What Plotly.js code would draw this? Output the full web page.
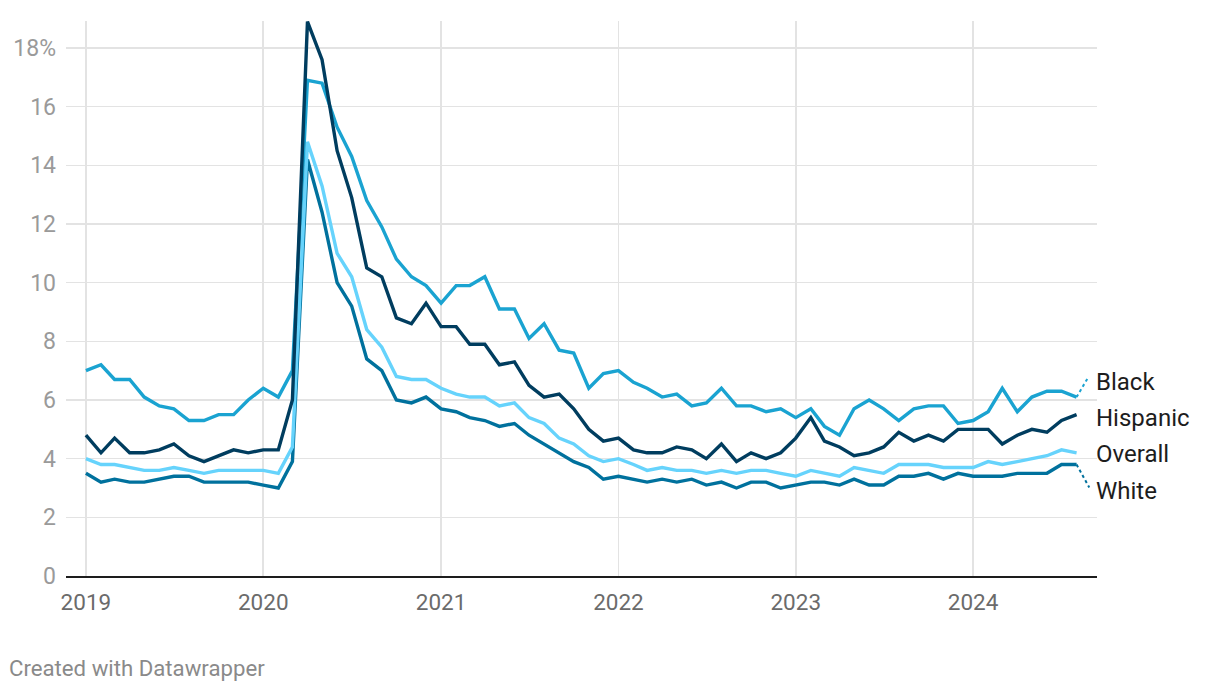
<!DOCTYPE html>
<html>
<head>
<meta charset="utf-8">
<script src="https://cdn.plot.ly/plotly-3.0.1.min.js"></script>
<style>
  html, body { margin: 0; padding: 0; background: #fff; }
  #chart { width: 1220px; height: 692px; }
</style>
</head>
<body>
<div id="chart"></div>
<script>
// Monthly, Jan 2019 – Aug 2024
const startYear = 2019;
const monthCount = 68;
const months = [];
for (let i = 0; i < monthCount; i++) {
  const y = startYear + Math.floor(i / 12);
  const m = (i % 12) + 1;
  months.push(y + '-' + String(m).padStart(2, '0') + '-01');
}

const black = [
  7.0, 7.2, 6.7, 6.7, 6.1, 5.8, 5.7, 5.3, 5.3, 5.5, 5.5, 6.0,
  6.4, 6.1, 7.0, 16.9, 16.8, 15.3, 14.3, 12.8, 11.9, 10.8, 10.2, 9.9,
  9.3, 9.9, 9.9, 10.2, 9.1, 9.1, 8.1, 8.6, 7.7, 7.6, 6.4, 6.9,
  7.0, 6.6, 6.4, 6.1, 6.2, 5.8, 5.9, 6.4, 5.8, 5.8, 5.6, 5.7,
  5.4, 5.7, 5.1, 4.8, 5.7, 6.0, 5.7, 5.3, 5.7, 5.8, 5.8, 5.2,
  5.3, 5.6, 6.4, 5.6, 6.1, 6.3, 6.3, 6.1
];
const hispanic = [
  4.8, 4.2, 4.7, 4.2, 4.2, 4.3, 4.5, 4.1, 3.9, 4.1, 4.3, 4.2,
  4.3, 4.3, 6.0, 18.9, 17.6, 14.5, 12.9, 10.5, 10.2, 8.8, 8.6, 9.3,
  8.5, 8.5, 7.9, 7.9, 7.2, 7.3, 6.5, 6.1, 6.2, 5.7, 5.0, 4.6,
  4.7, 4.3, 4.2, 4.2, 4.4, 4.3, 4.0, 4.5, 3.9, 4.2, 4.0, 4.2,
  4.7, 5.4, 4.6, 4.4, 4.1, 4.2, 4.4, 4.9, 4.6, 4.8, 4.6, 5.0,
  5.0, 5.0, 4.5, 4.8, 5.0, 4.9, 5.3, 5.5
];
const overall = [
  4.0, 3.8, 3.8, 3.7, 3.6, 3.6, 3.7, 3.6, 3.5, 3.6, 3.6, 3.6,
  3.6, 3.5, 4.4, 14.8, 13.3, 11.0, 10.2, 8.4, 7.8, 6.8, 6.7, 6.7,
  6.4, 6.2, 6.1, 6.1, 5.8, 5.9, 5.4, 5.2, 4.7, 4.5, 4.1, 3.9,
  4.0, 3.8, 3.6, 3.7, 3.6, 3.6, 3.5, 3.6, 3.5, 3.6, 3.6, 3.5,
  3.4, 3.6, 3.5, 3.4, 3.7, 3.6, 3.5, 3.8, 3.8, 3.8, 3.7, 3.7,
  3.7, 3.9, 3.8, 3.9, 4.0, 4.1, 4.3, 4.2
];
const white = [
  3.5, 3.2, 3.3, 3.2, 3.2, 3.3, 3.4, 3.4, 3.2, 3.2, 3.2, 3.2,
  3.1, 3.0, 3.9, 14.2, 12.4, 10.0, 9.2, 7.4, 7.0, 6.0, 5.9, 6.1,
  5.7, 5.6, 5.4, 5.3, 5.1, 5.2, 4.8, 4.5, 4.2, 3.9, 3.7, 3.3,
  3.4, 3.3, 3.2, 3.3, 3.2, 3.3, 3.1, 3.2, 3.0, 3.2, 3.2, 3.0,
  3.1, 3.2, 3.2, 3.1, 3.3, 3.1, 3.1, 3.4, 3.4, 3.5, 3.3, 3.5,
  3.4, 3.4, 3.4, 3.5, 3.5, 3.5, 3.8, 3.8
];

const seriesNames = ['Black', 'Hispanic', 'Overall', 'White'];
const yTickVals = [0, 2, 4, 6, 8, 10, 12, 14, 16, 18];
const yTickText = ['0', '2', '4', '6', '8', '10', '12', '14', '16', '18%'];
const xTickVals = ['2019-01-01', '2020-01-01', '2021-01-01', '2022-01-01', '2023-01-01', '2024-01-01'];
const xTickText = ['2019', '2020', '2021', '2022', '2023', '2024'];

// styling
const colors = { Black: '#1aa3d1', Hispanic: '#003d5f', Overall: '#66d3fc', White: '#00719d' };
const labelY = { Black: 6.62, Hispanic: 5.4, Overall: 4.17, White: 2.9 };
const leader = { Black: { days: 22, y: 6.72 }, White: { days: 26, y: 3.02 } };

const values = { Black: black, Hispanic: hispanic, Overall: overall, White: white };
const drawOrder = ['White', 'Overall', 'Black', 'Hispanic'];

const traces = drawOrder.map(n => ({
  type: 'scatter', mode: 'lines', name: n,
  x: months, y: values[n],
  line: { color: colors[n], width: 3.4, shape: 'linear' },
  hoverinfo: 'x+y'
}));

function addDays(dateStr, d) {
  const t = new Date(dateStr + 'T00:00:00Z');
  t.setUTCDate(t.getUTCDate() + d);
  return t.toISOString().slice(0, 10);
}

const lastDate = months[months.length - 1];
const shapes = Object.keys(leader).map(n => ({
  type: 'line', xref: 'x', yref: 'y',
  x0: lastDate, y0: values[n][values[n].length - 1],
  x1: addDays(lastDate, leader[n].days), y1: leader[n].y,
  line: { color: colors[n], width: 2, dash: 'dot' }
}));

const annotations = seriesNames.map(n => ({
  xref: 'paper', yref: 'y', x: 1, y: labelY[n],
  xanchor: 'left', yanchor: 'middle', xshift: -3,
  text: n, showarrow: false,
  font: { family: 'Roboto, sans-serif', size: 24, color: '#1d1d1d' }
}));
annotations.push({
  xref: 'paper', yref: 'paper', x: 0, y: 0,
  xanchor: 'left', yanchor: 'middle', xshift: -59, yshift: -92,
  text: 'Created with Datawrapper', showarrow: false,
  font: { family: 'Roboto, sans-serif', size: 22.2, color: '#8a8a8a' }
});

const layout = {
  width: 1220, height: 692,
  margin: { l: 66, r: 123, t: 21, b: 116 },
  paper_bgcolor: '#ffffff', plot_bgcolor: '#ffffff',
  showlegend: false,
  xaxis: {
    type: 'date',
    range: ['2018-11-21', '2024-09-12'],
    tickvals: xTickVals, ticktext: xTickText,
    showgrid: true, gridcolor: '#e3e3e3', gridwidth: 1.6,
    showline: true, linecolor: '#1d1d1d', linewidth: 2,
    ticks: '', ticklabelstandoff: 5,
    tickfont: { family: 'Roboto, sans-serif', size: 22.5, color: '#6b6b6b' },
    zeroline: false, fixedrange: true
  },
  yaxis: {
    range: [0, 18.92],
    tickvals: yTickVals, ticktext: yTickText,
    showgrid: true, gridcolor: '#e3e3e3', gridwidth: 1.6,
    zeroline: false, showline: false,
    ticks: '', ticklabelstandoff: 9,
    tickfont: { family: 'Roboto, sans-serif', size: 23, color: '#9a9a9a' },
    fixedrange: true
  },
  shapes: shapes,
  annotations: annotations
};

Plotly.newPlot('chart', traces, layout, { displayModeBar: false, staticPlot: true });
</script>
</body>
</html>
